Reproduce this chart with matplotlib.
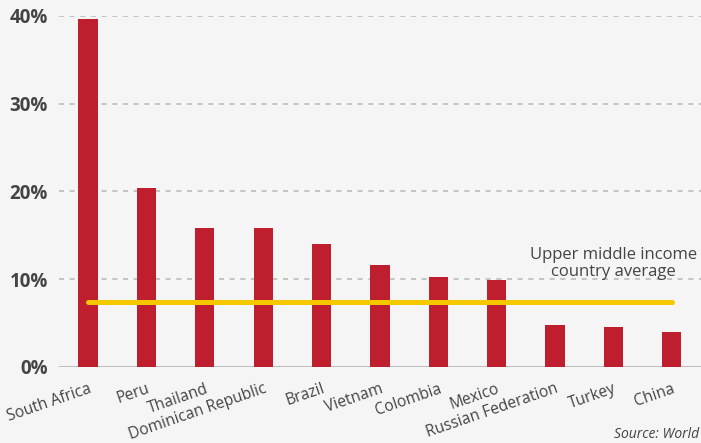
import matplotlib.pyplot as plt

countries = ['South Africa', 'Peru', 'Thailand', 'Dominican Republic', 'Brazil',
             'Vietnam', 'Colombia', 'Mexico', 'Russian Federation', 'Turkey', 'China']
values = [39.7, 20.4, 15.8, 15.8, 14.0, 11.6, 10.3, 9.9, 4.8, 4.6, 4.0]
avg = 7.4
yticks = [0, 10, 20, 30, 40]
ytick_labels = ['0%', '10%', '20%', '30%', '40%']

bg = '#f5f5f5'
txt = '#444444'
plt.rcParams['font.family'] = ['Open Sans', 'DejaVu Sans']

fig = plt.figure(figsize=(7.01, 4.43), dpi=100, facecolor=bg)
ax = fig.add_axes([0.084, 0.1716, 0.916, 0.7924], facecolor=bg)

x = list(range(len(countries)))
ax.bar(x, values, width=0.33, color='#be1e2d', zorder=3)

# average line
ax.plot([0, 10], [avg, avg], color='#f5c800', linewidth=3.6,
        solid_capstyle='round', zorder=4)
ax.text(9.0, 11.8, 'Upper middle income\ncountry average', ha='center',
        va='center', fontsize=12, color=txt, linespacing=1.05, zorder=5)

ax.set_xlim(-0.5, 10.5)
ax.set_ylim(0, 40)
ax.set_yticks(yticks)
ax.set_yticklabels(ytick_labels, fontsize=13.5, fontweight='bold', color=txt)
ax.set_xticks(x)
ax.set_xticklabels(countries, rotation=19, ha='right', va='top',
                   rotation_mode='anchor', fontsize=11.2, color=txt)
ax.tick_params(axis='both', length=0)
ax.tick_params(axis='y', pad=8)
ax.tick_params(axis='x', pad=10)

for s in ax.spines.values():
    s.set_visible(False)

ax.yaxis.grid(True, linestyle=(0, (3, 3.4)), linewidth=1.2, color='#bbbbbb', zorder=0)
ax.axhline(0, color='#bdbdbd', linewidth=2.2, zorder=2)
ax.set_axisbelow(True)

fig.text(0.998, 1 - 435 / 443, 'Source: World', fontsize=10,
         style='italic', color=txt, ha='right', va='center')

fig.savefig('out.png', dpi=100, facecolor=bg)
